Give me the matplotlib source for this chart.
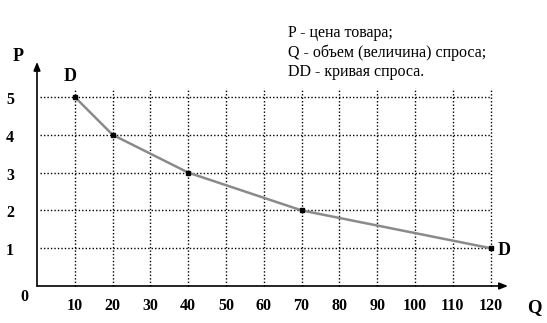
import matplotlib
matplotlib.use("Agg")
from matplotlib import pyplot as plt

# demand curve points
quantity = [10, 20, 40, 70, 120]
price = [5, 4, 3, 2, 1]

q_ticks = [10, 20, 30, 40, 50, 60, 70, 80, 90, 100, 110, 120]
p_ticks = [1, 2, 3, 4, 5]

legend_lines = ["P - цена товара;",
                "Q - объем (величина) спроса;",
                "DD - кривая спроса."]

plt.rcParams['font.family'] = ['Liberation Serif', 'DejaVu Serif']

fig = plt.figure(figsize=(5.47, 3.23), dpi=100)
ax = fig.add_axes([0, 0, 1, 1])
ax.set_xlim(-9.79, 134.92)
ax.set_ylim(-0.979, 7.566)
ax.axis('off')

# dotted grid
ax.vlines(q_ticks, 0, 5.24, colors='black', linestyles=(0, (1, 1.5)), linewidth=1)
ax.hlines(p_ticks, 0.8, 120, colors='black', linestyles=(0, (1, 1.5)), linewidth=1)

# axes with arrows
arrow = dict(arrowstyle='-|>,head_length=0.5,head_width=0.2', color='black', lw=1.2,
             shrinkA=0, shrinkB=0)
ax.annotate('', xy=(124.6, 0), xytext=(0, 0), arrowprops=arrow)
ax.annotate('', xy=(0, 5.93), xytext=(0, 0), arrowprops=arrow)

# demand curve
ax.plot(quantity, price, color='#8a8a8a', linewidth=1.8, zorder=3)
ax.plot(quantity, price, linestyle='none', marker='s', markersize=3.5,
        color='black', zorder=4)

for q in q_ticks:
    ax.text(q, -0.53, str(q), ha='center', va='center', fontsize=11.5, fontweight='bold')
for p in p_ticks:
    ax.text(-7.1, p - 0.08, str(p), ha='center', va='center', fontsize=11.5, fontweight='bold')

ax.text(-3.4, -0.29, '0', ha='center', va='center', fontsize=11.5, fontweight='bold')
ax.text(-5.0, 6.06, 'P', ha='center', va='center', fontsize=13, fontweight='bold')
ax.text(131.5, -0.58, 'Q', ha='center', va='center', fontsize=13.5, fontweight='bold')
ax.text(8.7, 5.53, 'D', ha='center', va='center', fontsize=13, fontweight='bold')
ax.text(123.5, 0.93, 'D', ha='center', va='center', fontsize=13, fontweight='bold')

for i, line in enumerate(legend_lines):
    ax.text(66.4, 6.69 - i * 0.52, line, ha='left', va='center', fontsize=11.5)

fig.savefig('out.png', dpi=100)
